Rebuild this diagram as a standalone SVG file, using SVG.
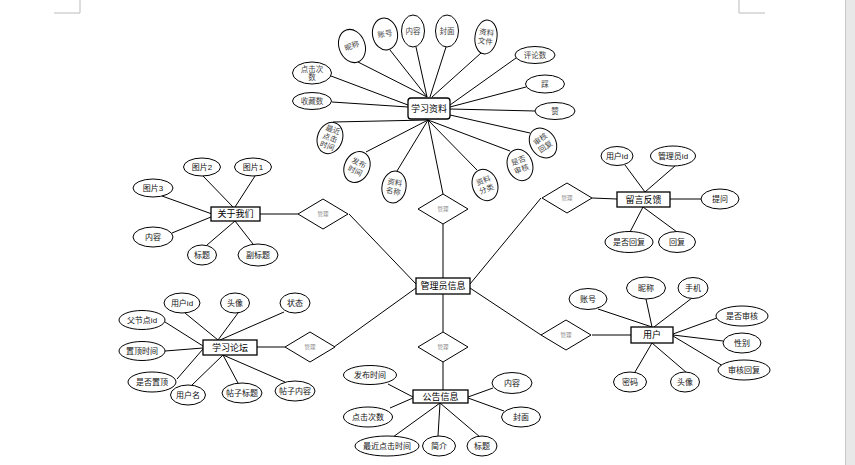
<svg xmlns="http://www.w3.org/2000/svg" width="855" height="465" viewBox="0 0 855 465">
<style>
.ent{fill:#fff;stroke:#000;stroke-width:1.3}
.att{fill:#fff;stroke:#000;stroke-width:1}
.rel{fill:#fff;stroke:#000;stroke-width:1}
.t{font-family:"Liberation Sans","Noto Sans CJK SC",sans-serif;font-size:8px;fill:#111;text-anchor:middle;dominant-baseline:central}
.ts{font-family:"Liberation Serif","Noto Sans CJK SC",serif;font-size:7.5px;fill:#444;text-anchor:middle;dominant-baseline:central}
.te{font-family:"Liberation Sans","Noto Sans CJK SC",sans-serif;font-size:9px;fill:#000;text-anchor:middle;dominant-baseline:central}
.tr{font-family:"Liberation Sans","Noto Sans CJK SC",sans-serif;font-size:5.5px;fill:#888;text-anchor:middle;dominant-baseline:central}
#connectors line{stroke:#000;stroke-width:1}
</style>
<rect x="0" y="0" width="855" height="465" fill="#fff"/>
<rect x="845" y="0" width="10" height="465" fill="#e8e8e8"/>
<line x1="845.5" y1="0" x2="845.5" y2="465" stroke="#c8c8c8" stroke-width="1"/>
<polyline points="80,0 80,13 54,13" fill="none" stroke="#bbb" stroke-width="1"/>
<polyline points="739,0 739,13 765,13" fill="none" stroke="#bbb" stroke-width="1"/>

<g id="connectors">
<line x1="358" y1="62" x2="427" y2="97"/>
<line x1="390" y1="50" x2="427" y2="97"/>
<line x1="416" y1="47" x2="427" y2="97"/>
<line x1="446" y1="47" x2="430" y2="97"/>
<line x1="481" y1="53" x2="432" y2="97"/>
<line x1="516" y1="58" x2="450" y2="105"/>
<line x1="526" y1="87" x2="450" y2="107"/>
<line x1="535" y1="111" x2="450" y2="109"/>
<line x1="331" y1="76" x2="408" y2="105"/>
<line x1="332" y1="102" x2="408" y2="107"/>
<line x1="333" y1="122" x2="428" y2="120"/>
<line x1="366" y1="152" x2="428" y2="120"/>
<line x1="397" y1="171" x2="428" y2="120"/>
<line x1="477" y1="170" x2="428" y2="120"/>
<line x1="510" y1="151" x2="428" y2="120"/>
<line x1="530" y1="133" x2="450" y2="115"/>
<line x1="428" y1="120" x2="443" y2="194"/>

<line x1="203" y1="176" x2="233" y2="207"/>
<line x1="255" y1="176" x2="235" y2="207"/>
<line x1="162" y1="196" x2="212" y2="214"/>
<line x1="172" y1="233" x2="211" y2="217"/>
<line x1="207" y1="245" x2="235" y2="221"/>
<line x1="253" y1="244" x2="235" y2="221"/>
<line x1="260" y1="214" x2="298" y2="214"/>

<line x1="349" y1="214" x2="416" y2="284"/>
<line x1="443" y1="224" x2="443" y2="278"/>
<line x1="541" y1="198" x2="470" y2="284"/>
<line x1="334" y1="347" x2="416" y2="288"/>
<line x1="443" y1="332" x2="443" y2="294"/>
<line x1="541" y1="335" x2="470" y2="288"/>

<line x1="592" y1="198" x2="617" y2="199"/>
<line x1="670" y1="199" x2="701" y2="199"/>
<line x1="625" y1="165" x2="645" y2="192"/>
<line x1="675" y1="166" x2="645" y2="192"/>
<line x1="630" y1="232" x2="643" y2="207"/>
<line x1="677" y1="232" x2="643" y2="207"/>

<line x1="257" y1="347" x2="285" y2="347"/>
<line x1="185" y1="313" x2="218" y2="340"/>
<line x1="238" y1="313" x2="218" y2="340"/>
<line x1="284" y1="312" x2="220" y2="340"/>
<line x1="165" y1="322" x2="203" y2="346"/>
<line x1="165" y1="351" x2="203" y2="348"/>
<line x1="177" y1="379" x2="203" y2="349"/>
<line x1="192" y1="385" x2="223" y2="355"/>
<line x1="238" y1="383" x2="223" y2="355"/>
<line x1="285" y1="382" x2="223" y2="355"/>

<line x1="443" y1="362" x2="443" y2="390"/>
<line x1="388" y1="384" x2="413" y2="397"/>
<line x1="390" y1="408" x2="413" y2="398"/>
<line x1="493" y1="388" x2="468" y2="397"/>
<line x1="504" y1="411" x2="468" y2="398"/>
<line x1="393" y1="437" x2="440" y2="403"/>
<line x1="438" y1="436" x2="440" y2="403"/>
<line x1="480" y1="437" x2="440" y2="403"/>

<line x1="592" y1="335" x2="631" y2="335"/>
<line x1="598" y1="309" x2="652" y2="327"/>
<line x1="646" y1="299" x2="652" y2="327"/>
<line x1="692" y1="298" x2="654" y2="327"/>
<line x1="717" y1="318" x2="673" y2="334"/>
<line x1="723" y1="341" x2="673" y2="335"/>
<line x1="723" y1="366" x2="673" y2="336"/>
<line x1="635" y1="372" x2="652" y2="343"/>
<line x1="687" y1="373" x2="652" y2="343"/>
</g>

<!-- 学习资料 -->
<g id="n-xxzl"><rect class="ent" x="408" y="98" width="42" height="21" rx="3"/><text class="te" x="429" y="108.5">学习资料</text></g>
<g id="a-nicheng" transform="translate(352,46) rotate(-20)"><ellipse class="att" rx="13" ry="17"/><text class="ts">昵称</text></g>
<g id="a-zhanghao" transform="translate(385,34) rotate(-10)"><ellipse class="att" rx="12.5" ry="16"/><text class="ts">账号</text></g>
<g id="a-neirong" transform="translate(413,31)"><ellipse class="att" rx="11.5" ry="16"/><text class="ts">内容</text></g>
<g id="a-fengmian" transform="translate(447,31)"><ellipse class="att" rx="11.5" ry="16"/><text class="ts">封面</text></g>
<g id="a-zlwj" transform="translate(486,37) rotate(8)"><ellipse class="att" rx="11" ry="17"/><text class="ts" y="-4.5">资料</text><text class="ts" y="4.5">文件</text></g>
<g id="a-pls" transform="translate(535,55)"><ellipse class="att" rx="20" ry="8.5"/><text class="ts">评论数</text></g>
<g id="a-cai" transform="translate(545,84)"><ellipse class="att" rx="19.5" ry="9"/><text class="ts">踩</text></g>
<g id="a-zan" transform="translate(555,111)"><ellipse class="att" rx="20" ry="8.5"/><text class="ts">赞</text></g>
<g id="a-djcs" transform="translate(312,73)"><ellipse class="att" rx="19.5" ry="11"/><text class="ts" y="-4">点击次</text><text class="ts" y="4.5">数</text></g>
<g id="a-scs" transform="translate(312,101)"><ellipse class="att" rx="19.5" ry="8.5"/><text class="ts">收藏数</text></g>
<g id="a-zjdjsj" transform="translate(330,138) rotate(20)"><ellipse class="att" rx="12.5" ry="16"/><text class="ts" y="-8.5">最近</text><text class="ts">点击</text><text class="ts" y="8.5">时间</text></g>
<g id="a-fbsj" transform="translate(357,167) rotate(25)"><ellipse class="att" rx="12.5" ry="16"/><text class="ts" y="-4.5">发布</text><text class="ts" y="4.5">时间</text></g>
<g id="a-zlmc" transform="translate(394,187) rotate(10)"><ellipse class="att" rx="12" ry="16"/><text class="ts" y="-4.5">资料</text><text class="ts" y="4.5">名称</text></g>
<g id="a-zlfl" transform="translate(485,185) rotate(-20)"><ellipse class="att" rx="12.5" ry="16"/><text class="ts" y="-4.5">资料</text><text class="ts" y="4.5">分类</text></g>
<g id="a-sfsh" transform="translate(520,165) rotate(-20)"><ellipse class="att" rx="12.5" ry="16"/><text class="ts" y="-4.5">是否</text><text class="ts" y="4.5">审核</text></g>
<g id="a-shhf" transform="translate(543,143) rotate(-35)"><ellipse class="att" rx="12.5" ry="16"/><text class="ts" y="-4.5">审核</text><text class="ts" y="4.5">回复</text></g>

<!-- 关系菱形 -->
<g id="r-top"><polygon class="rel" points="443,194 468,209 443,224 418,209"/><text class="tr" x="443" y="209">管理</text></g>
<g id="r-lu"><polygon class="rel" points="323,199 348,214 323,229 298,214"/><text class="tr" x="323" y="214">管理</text></g>
<g id="r-ru"><polygon class="rel" points="567,183 592,198 567,213 542,198"/><text class="tr" x="567" y="198">管理</text></g>
<g id="r-ll"><polygon class="rel" points="310,332 335,347 310,362 285,347"/><text class="tr" x="310" y="347">管理</text></g>
<g id="r-bot"><polygon class="rel" points="443,332 468,347 443,362 418,347"/><text class="tr" x="443" y="347">管理</text></g>
<g id="r-rl"><polygon class="rel" points="566,320 591,335 566,350 541,335"/><text class="tr" x="566" y="335">管理</text></g>

<!-- 管理员信息 -->
<g id="n-admin"><rect class="ent" x="416" y="278" width="54" height="16" stroke-width="1.6"/><text class="te" x="443" y="286">管理员信息</text></g>

<!-- 关于我们 -->
<g id="n-gywm"><rect class="ent" x="211" y="207" width="49" height="14"/><text class="te" x="235.5" y="214">关于我们</text></g>
<g id="a-tp2"><ellipse class="att" cx="202" cy="167" rx="18.5" ry="9"/><text class="t" x="202" y="167">图片2</text></g>
<g id="a-tp1"><ellipse class="att" cx="253" cy="167" rx="18.5" ry="9"/><text class="t" x="253" y="167">图片1</text></g>
<g id="a-tp3"><ellipse class="att" cx="153" cy="188" rx="20" ry="9"/><text class="t" x="153" y="188">图片3</text></g>
<g id="a-gnr"><ellipse class="att" cx="153" cy="237" rx="20" ry="10"/><text class="t" x="153" y="237">内容</text></g>
<g id="a-gbt"><ellipse class="att" cx="202" cy="255" rx="14.5" ry="10"/><text class="t" x="202" y="255">标题</text></g>
<g id="a-gfbt"><ellipse class="att" cx="258" cy="255" rx="20" ry="11"/><text class="t" x="258" y="255">副标题</text></g>

<!-- 留言反馈 -->
<g id="n-lyfk"><rect class="ent" x="617" y="192" width="53" height="15"/><text class="te" x="643.5" y="199.5">留言反馈</text></g>
<g id="a-lyhid"><ellipse class="att" cx="617" cy="156" rx="16" ry="9.5"/><text class="t" x="617" y="156">用户id</text></g>
<g id="a-glyid"><ellipse class="att" cx="673" cy="156" rx="22.5" ry="10"/><text class="t" x="673" y="156">管理员id</text></g>
<g id="a-tw"><ellipse class="att" cx="720" cy="199" rx="19" ry="10"/><text class="t" x="720" y="199">提问</text></g>
<g id="a-sfhf"><ellipse class="att" cx="629" cy="242" rx="24" ry="10.5"/><text class="t" x="629" y="242">是否回复</text></g>
<g id="a-hf"><ellipse class="att" cx="677" cy="242" rx="18.5" ry="10.5"/><text class="t" x="677" y="242">回复</text></g>

<!-- 学习论坛 -->
<g id="n-xxlt"><rect class="ent" x="203" y="340" width="54" height="15"/><text class="te" x="230" y="347.5">学习论坛</text></g>
<g id="a-ltyhid"><ellipse class="att" cx="182" cy="303" rx="18" ry="10"/><text class="t" x="182" y="303">用户id</text></g>
<g id="a-lttx"><ellipse class="att" cx="235" cy="303" rx="14.5" ry="10"/><text class="t" x="235" y="303">头像</text></g>
<g id="a-ltzt"><ellipse class="att" cx="295" cy="303" rx="15" ry="10"/><text class="t" x="295" y="303">状态</text></g>
<g id="a-fjdid"><ellipse class="att" cx="142" cy="320" rx="23" ry="9.5"/><text class="t" x="142" y="320">父节点id</text></g>
<g id="a-zdsj"><ellipse class="att" cx="142" cy="351" rx="23" ry="9.5"/><text class="t" x="142" y="351">置顶时间</text></g>
<g id="a-sfzd"><ellipse class="att" cx="152" cy="382" rx="24" ry="10"/><text class="t" x="152" y="382">是否置顶</text></g>
<g id="a-yhm"><ellipse class="att" cx="188" cy="395" rx="17.5" ry="10"/><text class="t" x="188" y="395">用户名</text></g>
<g id="a-tzbt"><ellipse class="att" cx="242" cy="393" rx="20" ry="10"/><text class="t" x="242" y="393">帖子标题</text></g>
<g id="a-tznr"><ellipse class="att" cx="295" cy="391" rx="20" ry="10"/><text class="t" x="295" y="391">帖子内容</text></g>

<!-- 公告信息 -->
<g id="n-ggxx"><rect class="ent" x="413" y="390" width="55" height="13"/><text class="te" x="440.5" y="396.5">公告信息</text></g>
<g id="a-ggfbsj"><ellipse class="att" cx="370" cy="375" rx="26.5" ry="9.5"/><text class="t" x="370" y="375">发布时间</text></g>
<g id="a-ggdjcs"><ellipse class="att" cx="368" cy="417" rx="24.5" ry="10"/><text class="t" x="368" y="417">点击次数</text></g>
<g id="a-ggzj"><ellipse class="att" cx="387" cy="446" rx="32" ry="10"/><text class="t" x="387" y="446">最近点击时间</text></g>
<g id="a-ggjj"><ellipse class="att" cx="439" cy="446" rx="16.5" ry="10"/><text class="t" x="439" y="446">简介</text></g>
<g id="a-ggbt"><ellipse class="att" cx="482" cy="446" rx="15" ry="10"/><text class="t" x="482" y="446">标题</text></g>
<g id="a-ggnr"><ellipse class="att" cx="512" cy="383" rx="20" ry="10.5"/><text class="t" x="512" y="383">内容</text></g>
<g id="a-ggfm"><ellipse class="att" cx="521" cy="417" rx="19.5" ry="10"/><text class="t" x="521" y="417">封面</text></g>

<!-- 用户 -->
<g id="n-yh"><rect class="ent" x="631" y="327" width="42" height="16"/><text class="te" x="652" y="335">用户</text></g>
<g id="a-yhzh"><ellipse class="att" cx="588" cy="299" rx="19" ry="10.5"/><text class="t" x="588" y="299">账号</text></g>
<g id="a-yhnc"><ellipse class="att" cx="646" cy="288" rx="19.5" ry="11"/><text class="t" x="646" y="288">昵称</text></g>
<g id="a-yhsj"><ellipse class="att" cx="693" cy="288" rx="15" ry="10.5"/><text class="t" x="693" y="288">手机</text></g>
<g id="a-yhsfsh"><ellipse class="att" cx="742" cy="316" rx="26" ry="10"/><text class="t" x="742" y="316">是否审核</text></g>
<g id="a-yhxb"><ellipse class="att" cx="742" cy="343" rx="19" ry="10"/><text class="t" x="742" y="343">性别</text></g>
<g id="a-yhshhf"><ellipse class="att" cx="744" cy="370" rx="26" ry="10"/><text class="t" x="744" y="370">审核回复</text></g>
<g id="a-yhmm"><ellipse class="att" cx="630" cy="382" rx="16.5" ry="10"/><text class="t" x="630" y="382">密码</text></g>
<g id="a-yhtx"><ellipse class="att" cx="685" cy="382" rx="14.5" ry="10"/><text class="t" x="685" y="382">头像</text></g>
</svg>
